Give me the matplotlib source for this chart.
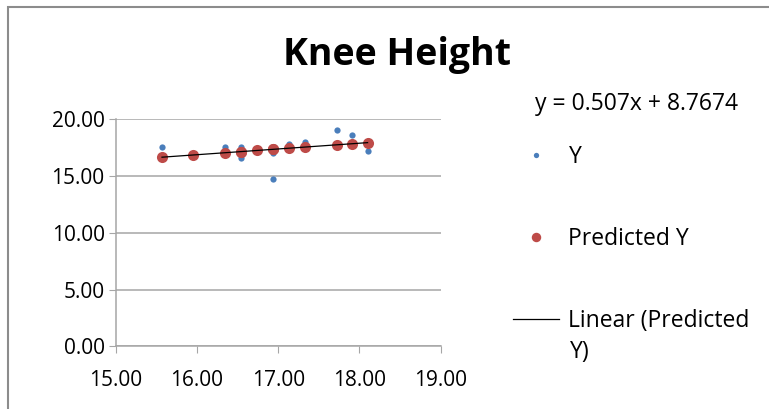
import numpy as np
import matplotlib.pyplot as plt
from matplotlib.patches import Rectangle

# data
x_vals = [15.57, 15.95, 16.35, 16.54, 16.54, 16.74, 16.93, 16.93, 17.13, 17.33, 17.72, 17.91, 18.10]
y_obs = [17.59, 16.90, 17.59, 17.59, 16.56, 17.30, 17.00, 14.74, 17.82, 18.03, 19.03, 18.59, 17.23]
y_pred = [16.66, 16.85, 17.06, 17.15, 17.15, 17.26, 17.35, 17.35, 17.45, 17.55, 17.75, 17.85, 17.94]
slope = 0.507
intercept = 8.7674
x_ticks = [15.0, 16.0, 17.0, 18.0, 19.0]
y_ticks = [0.0, 5.0, 10.0, 15.0, 20.0]

plt.rcParams['font.family'] = ['Open Sans', 'DejaVu Sans']

W, H = 769, 409
fig = plt.figure(figsize=(W/100, H/100), dpi=100)
ax = fig.add_axes([115.7/W, 1-346.3/H, 325/W, 227/H])

blue = '#4A7EBB'
red = '#BE4B48'
grid_c = '#A6A6A6'

ax.plot(x_vals, y_obs, 'o', color=blue, ms=4.5, mec='none', label='Y', zorder=3)
ax.plot(x_vals, y_pred, 'o', color=red, ms=8, mec='none', label='Predicted Y', zorder=4)
xl = np.array([min(x_vals), max(x_vals)])
ax.plot(xl, slope*xl+intercept, '-', color='black', lw=0.9, label='Linear (Predicted', zorder=5)

ax.set_xlim(15, 19)
ax.set_ylim(0, 20)
ax.set_xticks(x_ticks)
ax.set_yticks(y_ticks)
ax.set_xticklabels(['%.2f' % v for v in x_ticks])
ax.set_yticklabels(['%.2f' % v for v in y_ticks])
ax.tick_params(axis='both', direction='out', length=5, color=grid_c, labelsize=15)
ax.tick_params(axis='x', pad=12)
ax.tick_params(axis='y', pad=3)
ax.yaxis.grid(True, color=grid_c, lw=1.1)
ax.set_axisbelow(True)
for s in ['top', 'right']:
    ax.spines[s].set_visible(False)
for s in ['left', 'bottom']:
    ax.spines[s].set_color(grid_c)
    ax.spines[s].set_linewidth(1.1)

fig.text(397/W, 1-65/H, 'Knee Height', ha='center', va='baseline', fontsize=27, fontweight='bold')
fig.text(535/W, 1-110/H, 'y = 0.507x + 8.7674', ha='left', va='baseline', fontsize=16.5)

leg = ax.legend(loc='upper left', bbox_to_anchor=(513/W, 1-145/H), bbox_transform=fig.transFigure,
                frameon=False, fontsize=16.5, labelspacing=2.53, handlelength=2.0, handletextpad=0.42,
                borderpad=0, borderaxespad=0, markerscale=0.85)
fig.text(570/W, 1-358/H, 'Y)', ha='left', va='baseline', fontsize=16.5)

# chart area border
fig.patches.append(Rectangle((8/W, -0.1), 1.2, 1-7/H+0.1, transform=fig.transFigure,
                             fill=False, ec='#8C8C8C', lw=1.5))

fig.savefig('out.png', dpi=100)
